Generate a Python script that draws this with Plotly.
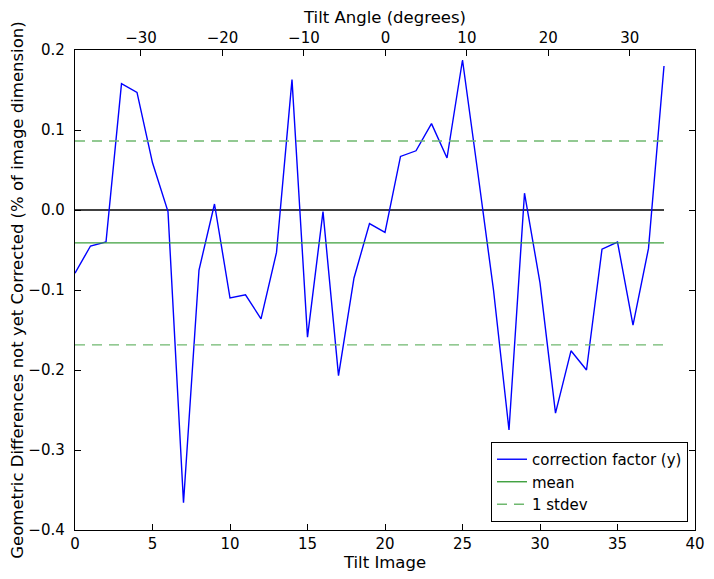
import numpy as np
import plotly.graph_objects as go

# ---- data ----
tilt_image = list(range(39))
correction_y = [
    -0.079, -0.045, -0.040, 0.158, 0.147, 0.059, -0.002, -0.366, -0.075, 0.0075,
    -0.110, -0.106, -0.136, -0.053, 0.163, -0.159, -0.002, -0.207, -0.085, -0.017,
    -0.028, 0.067, 0.074, 0.108, 0.065, 0.1875, 0.045, -0.100, -0.275, 0.021,
    -0.091, -0.254, -0.176, -0.200, -0.049, -0.040, -0.144, -0.048, 0.180,
]
tilt_angle_range = [-38.1, 38.0]
tilt_angle_ticks = [-30, -20, -10, 0, 10, 20, 30]
x_ticks = [0, 5, 10, 15, 20, 25, 30, 35, 40]
y_ticks = [-0.4, -0.3, -0.2, -0.1, 0.0, 0.1, 0.2]

mean_val = float(np.mean(correction_y))
std_val = float(np.std(correction_y))
x_span = [tilt_image[0], tilt_image[-1]]

FONT = "DejaVu Sans"
fig = go.Figure()

# zero line (not in legend)
fig.add_trace(go.Scatter(x=x_span, y=[0, 0], mode="lines",
                         line=dict(color="black", width=1.4), showlegend=False,
                         hoverinfo="skip"))
fig.add_trace(go.Scatter(x=tilt_image, y=correction_y, mode="lines",
                         name="correction factor (y)",
                         line=dict(color="#0000ff", width=1.4)))
fig.add_trace(go.Scatter(x=x_span, y=[mean_val, mean_val], mode="lines",
                         name="mean", line=dict(color="#3c9f3c", width=1.4)))
fig.add_trace(go.Scatter(x=x_span, y=[mean_val + std_val] * 2, mode="lines",
                         name="1 stdev",
                         line=dict(color="#6fb86f", width=1.4, dash="10px,7px")))
fig.add_trace(go.Scatter(x=x_span, y=[mean_val - std_val] * 2, mode="lines",
                         showlegend=False,
                         line=dict(color="#6fb86f", width=1.4, dash="10px,7px")))
# invisible trace for the top tilt-angle axis
fig.add_trace(go.Scatter(x=tilt_angle_range, y=[None, None], xaxis="x2",
                         mode="lines", showlegend=False, hoverinfo="skip"))

# the page body adds an 8px offset, so the figure is 706x571
fig.update_layout(
    width=706, height=571,
    margin=dict(l=67, r=19, t=42, b=49),
    paper_bgcolor="white", plot_bgcolor="white",
    font=dict(family=FONT, size=15, color="black"),
    showlegend=True,
    legend=dict(x=0.9887, y=0.0167, xanchor="right", yanchor="bottom",
                bordercolor="black", borderwidth=1, bgcolor="white",
                font=dict(family=FONT, size=15), tracegroupgap=0,
                itemwidth=30),
    xaxis=dict(range=[0, 40], tickvals=x_ticks, ticks="inside", ticklen=6,
               tickcolor="black", showline=True, linecolor="black", linewidth=1.4,
               mirror=True, showgrid=False, zeroline=False, automargin=False,
               tickfont=dict(size=15), ticklabelstandoff=0,
               title=dict(text="Tilt Image", font=dict(size=16.5), standoff=1)),
    xaxis2=dict(range=tilt_angle_range, overlaying="x", side="top",
                tickvals=tilt_angle_ticks, ticks="inside", ticklen=6,
                tickcolor="black", showline=False, showgrid=False, zeroline=False,
                automargin=False, tickfont=dict(size=15), ticklabelstandoff=3,
                title=dict(text="Tilt Angle (degrees)", font=dict(size=16.5), standoff=3)),
    yaxis=dict(range=[-0.4, 0.2], tickvals=y_ticks, tickformat=".1f",
               ticks="inside", ticklen=6, tickcolor="black",
               showline=True, linecolor="black", linewidth=1.4, mirror="ticks",
               showgrid=False, zeroline=False, automargin=False,
               tickfont=dict(size=15), ticklabelstandoff=6,
               title=dict(text="Geometric Differences not yet Corrected (% of image dimension)",
                          font=dict(size=16.5), standoff=8)),
)

fig.write_html("out.html")
